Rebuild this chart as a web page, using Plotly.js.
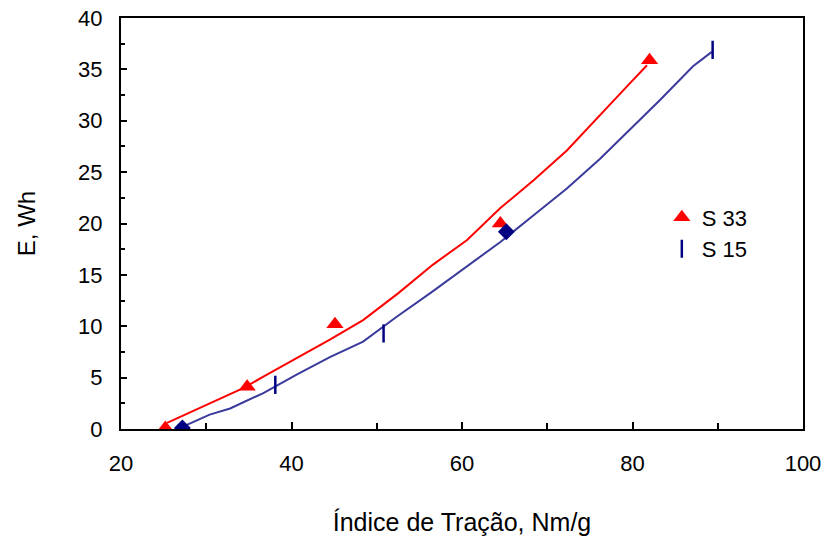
<!DOCTYPE html>
<html>
<head>
<meta charset="utf-8">
<script src="https://cdn.plot.ly/plotly-3.0.1.min.js"></script>
<style>html,body{margin:0;padding:0;background:#fff;}#chart{width:827px;height:543px;}</style>
</head>
<body>
<div id="chart"></div>
<script>
// Fitted curve S 33 (red line)
const curveS33X = [25.4, 30.4, 34.4, 36.7, 40.6, 44.5, 48.4, 52.5, 56.6, 60.6, 64.5, 68.4, 72.3, 75.4, 79.3, 81.7];
const curveS33Y = [0.6, 2.5, 4.0, 5.1, 6.9, 8.7, 10.6, 13.2, 16.0, 18.4, 21.5, 24.2, 27.1, 29.8, 33.3, 35.4];
// Fitted curve S 15 (blue line)
const curveS15X = [27.2, 30.4, 32.8, 36.7, 40.6, 44.5, 48.4, 52.3, 56.4, 60.6, 64.5, 68.4, 72.3, 76.2, 79.3, 83.2, 87.1, 89.3];
const curveS15Y = [0.2, 1.4, 2.0, 3.5, 5.3, 7.0, 8.5, 10.9, 13.3, 15.8, 18.2, 20.8, 23.4, 26.3, 28.8, 32.0, 35.3, 36.7];
// Measured points
const s33X = [25.2, 34.8, 45.1, 64.5, 82.0];
const s33Y = [0.1, 4.1, 10.2, 20.0, 35.9];
const s15X = [38.1, 50.8, 89.4];
const s15Y = [4.3, 9.3, 36.9];
const extraX = [27.2, 65.2];
const extraY = [0.1, 19.2];
const seriesNames = ["S 33", "S 15"];

const font = "Liberation Sans, Arial, sans-serif";
const data = [
  {x: curveS33X, y: curveS33Y, mode: "lines", line: {color: "#ff0000", width: 2}, showlegend: false, hoverinfo: "skip"},
  {x: curveS15X, y: curveS15Y, mode: "lines", line: {color: "#3a3a9c", width: 2}, showlegend: false, hoverinfo: "skip"},
  {x: s33X, y: s33Y, mode: "markers", name: seriesNames[0], marker: {symbol: "triangle-up", size: 15, color: "#ff0000"}},
  {x: s15X, y: s15Y, mode: "markers", name: seriesNames[1], marker: {symbol: "line-ns", size: 13, color: "#000080", line: {color: "#000080", width: 2.5}}},
  {x: extraX, y: extraY, mode: "markers", showlegend: false, marker: {symbol: "diamond", size: 13, color: "#000080"}}
];
const layout = {
  width: 827, height: 543,
  margin: {l: 121, r: 24, t: 18, b: 114},
  paper_bgcolor: "#fff", plot_bgcolor: "#fff",
  font: {family: font, size: 22, color: "#000"},
  showlegend: true,
  legend: {x: 0.793, y: 0.566, xanchor: "left", yanchor: "top", bgcolor: "rgba(0,0,0,0)", font: {size: 22, family: font}, tracegroupgap: 0, itemwidth: 30},
  xaxis: {
    range: [20, 100], dtick: 20, tick0: 20,
    showgrid: false, zeroline: false,
    showline: true, linecolor: "#000", linewidth: 2, mirror: true,
    ticks: "inside", ticklen: 7, tickwidth: 2, tickcolor: "#000",
    minor: {dtick: 10, ticks: "inside", ticklen: 6, tickwidth: 2, tickcolor: "#000"},
    ticklabelstandoff: 14,
    tickfont: {size: 22, family: font},
    title: {text: "Índice de Tração, Nm/g", font: {size: 25, family: font}, standoff: 38}
  },
  yaxis: {
    range: [0, 40], dtick: 5,
    showgrid: false, zeroline: false,
    showline: true, linecolor: "#000", linewidth: 2, mirror: true,
    ticks: "inside", ticklen: 6, tickwidth: 2, tickcolor: "#000",
    minor: {dtick: 2.5, ticks: "inside", ticklen: 4, tickwidth: 2, tickcolor: "#000"},
    ticklabelstandoff: 12,
    tickfont: {size: 22, family: font},
    title: {text: "E, Wh", font: {size: 24, family: font}, standoff: 36}
  }
};
Plotly.newPlot("chart", data, layout, {displayModeBar: false, staticPlot: true});
</script>
</body>
</html>
